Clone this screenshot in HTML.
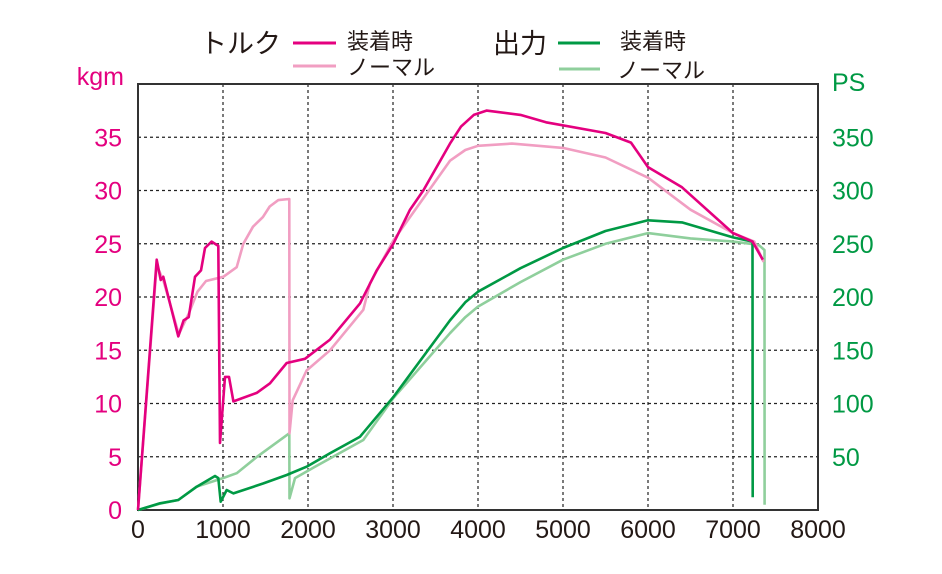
<!DOCTYPE html>
<html><head><meta charset="utf-8"><style>
body{margin:0;background:#fff;width:942px;height:574px;overflow:hidden}
svg{display:block}
text{font-family:"Liberation Sans","Noto Sans CJK JP",sans-serif}
</style></head><body>
<svg id="chart" width="942" height="574" viewBox="0 0 942 574">
<g id="grid"></g>
<rect x="138" y="84" width="680" height="426" fill="none" stroke="#333" stroke-width="2"/>
<g id="ticks"></g>
<g id="series"></g>
<g>
<text x="200" y="53" font-size="27" fill="#231815">トルク</text>
<line x1="293" y1="43" x2="336" y2="43" stroke="#e4007f" stroke-width="3"/>
<text x="347" y="49" font-size="22" fill="#231815">装着時</text>
<line x1="293" y1="66" x2="336" y2="66" stroke="#f19ec2" stroke-width="3"/>
<text x="347" y="75" font-size="22" fill="#231815">ノーマル</text>
<text x="493" y="53" font-size="27" fill="#231815">出力</text>
<line x1="558" y1="43" x2="600" y2="43" stroke="#009944" stroke-width="3"/>
<text x="620" y="49" font-size="22" fill="#231815">装着時</text>
<line x1="559" y1="69" x2="600" y2="69" stroke="#8fcf9c" stroke-width="3"/>
<text x="617" y="78" font-size="22" fill="#231815">ノーマル</text>
</g>
<text x="124" y="85" text-anchor="end" font-size="25" fill="#e4007f">kgm</text>
<text x="832" y="91" font-size="25" fill="#009944">PS</text>
</svg>
<script>
const xTicks=[0,1000,2000,3000,4000,5000,6000,7000,8000];
const leftTicks=[0,5,10,15,20,25,30,35];
const rightTicks=[50,100,150,200,250,300,350];
const torqueModRpm=[0,220,267,298,474,537,596,671,741,788,866,945,965,1024,1071,1122,1396,1553,1749,1965,2259,2612,2808,3004,3200,3357,3671,3800,3950,4100,4500,4800,5500,5800,6000,6400,7000,7230,7350];
const torqueModVal=[0,23.5,21.6,21.9,16.3,17.8,18.1,21.9,22.5,24.6,25.2,24.8,6.3,12.5,12.5,10.2,11.0,11.9,13.8,14.2,16.0,19.4,22.5,25.0,28.2,30.0,34.4,36.0,37.1,37.5,37.1,36.4,35.4,34.5,32.2,30.3,26.0,25.2,23.5];
const torqueNorRpm=[0,220,300,480,600,700,800,1004,1161,1239,1353,1470,1549,1651,1780,1782,1820,1984,2259,2651,2729,3004,3671,3850,4000,4400,5000,5500,6000,6500,7000,7250,7360];
const torqueNorVal=[0,23,21.5,16.5,18.5,20.5,21.5,21.9,22.8,25,26.6,27.5,28.5,29.1,29.2,7.2,10.3,13.1,15.0,18.8,21.3,25.3,32.8,33.8,34.2,34.4,34.0,33.1,31.2,28.2,26.0,25.2,23.3];
const powerModRpm=[0,259,474,690,906,945,973,1043,1122,1475,1749,1984,2259,2612,3004,3671,3850,4000,4500,5000,5500,6000,6400,7000,7230,7232];
const powerModVal=[0,6.3,9.4,21.9,31.9,30,7.8,18.8,15.6,25,32.9,40.7,53.2,68.8,106,178,195,205,227,246,262,272,270,256,252,12];
const powerNorRpm=[0,260,474,690,1000,1161,1400,1780,1782,1847,2082,2651,3004,3671,3850,4000,4500,5000,5500,6000,6500,7000,7300,7370,7372];
const powerNorVal=[0,6,9.4,22,30,34.6,50,72,11,30,40.7,65.7,105,166,181,191,214,235,250,260,255,252,249,244,5];

const X=r=>138+r*680/8000;
const YL=v=>510-v*426/40;
const YR=v=>510-v*426/400;
const NS="http://www.w3.org/2000/svg";
const grid=document.getElementById('grid'),ticks=document.getElementById('ticks'),series=document.getElementById('series');
function mk(tag,attrs,parent){const e=document.createElementNS(NS,tag);for(const k in attrs)e.setAttribute(k,attrs[k]);parent.appendChild(e);return e;}
xTicks.forEach(t=>{
  if(t>0&&t<8000){const l=mk('line',{x1:X(t),x2:X(t),y1:84,y2:510,stroke:'#222','stroke-width':1.2,'stroke-dasharray':'3,3'},grid);
  
  }
  const tx=mk('text',{x:X(t),y:538,'text-anchor':'middle','font-size':25,fill:'#231815'},ticks);tx.textContent=t;
  
  
});
leftTicks.forEach(t=>{
  if(t>0){const l=mk('line',{x1:138,x2:818,y1:YL(t),y2:YL(t),stroke:'#222','stroke-width':1.2,'stroke-dasharray':'3,3'},grid);
  
  }
  const tx=mk('text',{x:122,y:YL(t)+9,'text-anchor':'end','font-size':25,fill:'#e4007f'},ticks);tx.textContent=t;
  
  
});
rightTicks.forEach(t=>{
  const tx=mk('text',{x:832,y:YR(t)+9,'font-size':25,fill:'#009944'},ticks);tx.textContent=t;
  
  
});
function line(rpm,val,Y,color,name){
  const d=rpm.map((r,i)=>(i?'L':'M')+X(r).toFixed(1)+','+Y(val[i]).toFixed(1)).join(' ');
  const p=mk('path',{d:d,fill:'none',stroke:color,'stroke-width':2.6,'stroke-linejoin':'round'},series);
  
  
}
line(powerNorRpm,powerNorVal,YR,'#8fcf9c','power-normal-line');
line(torqueNorRpm,torqueNorVal,YL,'#f19ec2','torque-normal-line');
line(powerModRpm,powerModVal,YR,'#009944','power-mod-line');
line(torqueModRpm,torqueModVal,YL,'#e4007f','torque-mod-line');
</script>
</body></html>
